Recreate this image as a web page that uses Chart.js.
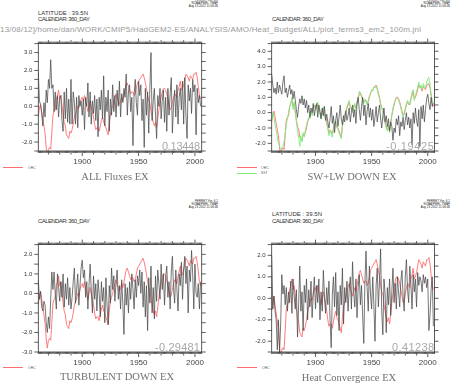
<!DOCTYPE html>
<html lang="en">
<head>
<meta charset="UTF-8">
<title>Heat budget terms</title>
<script src="https://cdn.jsdelivr.net/npm/chart.js"></script>
<style>
  html, body { margin: 0; padding: 0; background: #fff; }
  #page { position: relative; width: 451px; height: 384px; overflow: hidden; font-family: "Liberation Sans", Arial, sans-serif; }
  #page canvas { position: absolute; }
  .t { position: absolute; white-space: nowrap; line-height: 1; }
  .sw { position: absolute; height: 1px; width: 20px; }
</style>
</head>
<body>
<div id="page"></div>
<script>
// annual values 1861-2005
const YEARS = [
  1861,1862,1863,1864,1865,1866,1867,1868,1869,1870,
  1871,1872,1873,1874,1875,1876,1877,1878,1879,1880,
  1881,1882,1883,1884,1885,1886,1887,1888,1889,1890,
  1891,1892,1893,1894,1895,1896,1897,1898,1899,1900,
  1901,1902,1903,1904,1905,1906,1907,1908,1909,1910,
  1911,1912,1913,1914,1915,1916,1917,1918,1919,1920,
  1921,1922,1923,1924,1925,1926,1927,1928,1929,1930,
  1931,1932,1933,1934,1935,1936,1937,1938,1939,1940,
  1941,1942,1943,1944,1945,1946,1947,1948,1949,1950,
  1951,1952,1953,1954,1955,1956,1957,1958,1959,1960,
  1961,1962,1963,1964,1965,1966,1967,1968,1969,1970,
  1971,1972,1973,1974,1975,1976,1977,1978,1979,1980,
  1981,1982,1983,1984,1985,1986,1987,1988,1989,1990,
  1991,1992,1993,1994,1995,1996,1997,1998,1999,2000,
  2001,2002,2003,2004,2005
];

const OHC = [
  -0.6,-0.1,0.1,-0.3,-0.7,-1.1,-1.5,-2.3,-2.8,-2.4,
  -2.3,-2.4,-1.5,-0.5,-0.3,-0.2,0.4,0.6,0.9,0.4,
  0.6,0.1,-0.5,-0.9,-1.1,-1.6,-1.7,-1.8,-1.4,-1.5,
  -1.3,-1.0,-0.6,-0.4,-0.3,0.0,-0.1,0.2,0.4,0.5,
  0.3,0.6,0.2,0.0,-0.3,0.0,0.3,0.0,-0.3,-0.6,
  -1.0,-1.3,-1.2,-1.2,-1.4,-1.1,-0.8,-0.6,-0.9,-1.0,
  -1.2,-1.4,-1.6,-0.9,-0.4,-0.2,0.0,0.3,0.5,0.7,
  0.4,0.3,0.1,0.3,0.5,0.3,0.6,0.9,1.2,1.3,
  1.1,0.9,0.7,0.8,0.8,0.6,0.7,1.0,1.3,1.4,
  1.5,1.6,1.7,1.8,1.6,1.3,1.0,0.6,0.3,0.2,
  -0.3,-0.6,-0.9,-1.1,-0.9,-1.2,-0.7,-0.2,0.2,0.5,
  0.8,1.0,1.0,0.9,0.7,0.4,0.1,-0.2,-0.1,0.2,
  0.5,0.7,0.6,0.5,0.9,1.1,1.4,0.9,1.0,1.2,
  1.5,1.8,1.7,1.6,1.4,1.7,1.6,1.5,1.8,1.8,
  1.9,1.6,1.1,0.6,0.4
];

const SST = [
  -0.5,0.0,-0.3,-0.8,-1.2,-1.6,-2.0,-2.2,-2.4,-2.3,
  -2.2,-1.9,-1.3,-0.8,-0.4,0.0,0.4,0.5,1.0,0.2,
  0.7,0.0,-0.6,-1.2,-1.6,-2.2,-1.5,-1.9,-1.3,-1.6,
  -1.1,-0.8,-0.5,-0.3,-0.4,0.1,-0.2,0.3,0.5,0.4,
  0.2,0.7,0.1,-0.1,-0.4,0.1,0.4,-0.1,-0.5,-0.7,
  -1.1,-1.5,-1.1,-1.4,-1.6,-1.0,-0.7,-0.5,-1.0,-1.1,
  -1.3,-1.5,-1.7,-0.8,-0.3,-0.1,0.1,0.4,0.6,0.8,
  0.3,0.2,0.0,0.4,0.6,0.2,0.7,1.0,1.4,1.2,
  1.0,0.8,0.6,0.9,0.7,0.5,0.8,1.1,1.2,1.5,
  1.4,1.7,1.6,1.7,1.5,1.2,0.9,0.5,0.2,0.3,
  -0.4,-0.7,-1.0,-1.2,-0.8,-1.3,-0.6,-0.1,0.3,0.6,
  0.8,1.0,0.9,0.8,0.6,0.3,0.0,-0.3,0.0,0.3,
  0.6,0.8,0.5,0.6,1.0,1.3,1.5,0.8,1.1,1.4,
  1.6,2.0,1.6,1.8,1.5,1.9,1.7,1.6,2.0,2.2,
  2.3,1.8,1.2,0.8,0.6
];

const ALL_FLUXES = [
  1.9,0.3,0.1,-0.4,-1.1,0.2,-0.6,0.9,0.2,1.5,
  1.0,2.6,1.0,1.2,-0.3,0.8,-0.2,0.6,-0.6,0.5,
  0.6,-0.8,-1.4,0.8,-0.7,1.0,-0.9,0.4,-1.0,1.5,
  -1.0,0.8,0.2,-1.0,0.5,-1.2,0.6,0.0,0.3,-0.5,
  0.4,-1.3,0.5,0.0,1.3,-0.6,0.8,-1.0,0.3,-0.4,
  0.6,-0.8,0.4,-1.7,0.5,-0.2,0.9,-0.7,1.7,-1.1,
  0.5,-0.3,0.9,-1.4,0.4,-0.5,1.2,-0.3,0.6,-0.6,
  0.9,0.0,1.4,-0.6,0.7,0.2,1.0,0.5,1.8,-0.5,
  0.8,1.2,-0.3,0.5,-2.2,0.6,1.5,0.2,-0.5,1.4,
  0.6,1.2,-0.8,0.4,-2.3,1.0,-0.5,0.8,-1.5,1.0,
  3.0,-0.8,0.3,1.0,-0.5,-1.8,0.6,0.0,1.0,-0.7,
  0.3,0.9,-0.9,0.5,-1.4,1.0,-0.5,0.7,1.6,-1.5,
  0.0,0.9,-0.6,1.2,-1.0,0.5,1.0,-0.2,1.4,-1.0,
  1.6,-0.5,-1.8,1.2,0.3,1.0,-0.4,1.5,0.8,1.2,
  -1.6,1.0,0.2,0.6,0.0
];

const SWLW_DOWN = [
  2.5,1.8,1.3,1.6,1.2,2.0,1.3,1.8,1.5,1.2,
  2.0,2.4,1.3,1.6,1.0,1.4,1.8,1.2,1.5,0.9,
  1.4,0.8,0.2,-0.3,0.4,0.9,0.6,1.1,0.5,0.9,
  0.3,0.8,0.0,0.5,-0.3,0.3,0.0,0.6,-0.2,0.3,
  0.6,-0.3,0.5,0.1,-0.4,0.3,-0.2,0.4,-0.5,-0.1,
  -0.6,-1.0,-0.4,0.4,-0.7,-0.2,-1.3,-0.5,0.0,-0.9,
  -0.3,0.5,-0.4,-0.8,-0.2,-0.6,0.1,-0.5,-0.2,0.3,
  -0.6,0.0,0.5,-0.3,0.2,-0.7,0.6,1.0,0.2,-0.5,
  0.4,1.0,-0.2,0.5,-0.8,0.1,0.6,-0.3,0.3,-0.5,
  0.2,-0.9,-0.3,0.4,-0.6,0.0,0.5,-0.4,-1.0,-0.2,
  0.3,-0.6,-0.2,-0.9,-0.4,-1.2,-0.6,-0.9,-1.8,-1.0,
  -1.3,-0.4,-0.8,-0.2,-1.5,-0.6,-0.9,-0.3,-1.1,-0.5,
  0.0,-0.8,-0.3,-1.0,-0.4,-2.1,0.0,-0.7,0.3,-0.5,
  -0.9,0.2,-2.2,0.4,-0.4,0.5,-0.6,0.2,0.9,1.2,
  0.6,0.2,1.0,0.4,0.6
];

const TURBULENT_DOWN = [
  0.7,-0.3,0.1,-0.7,-0.9,-0.4,-0.6,-1.5,-2.0,-1.2,
  -1.8,-0.3,1.1,0.2,1.1,0.0,-0.8,1.0,0.3,-0.4,
  0.6,-0.2,1.0,-0.7,0.5,-0.3,0.8,-0.6,0.3,-0.8,
  -0.2,0.6,1.3,-0.5,0.2,1.0,-0.6,0.4,1.3,1.7,
  0.8,1.2,-0.2,0.6,-0.8,0.4,1.5,0.2,-1.0,0.9,
  -0.3,0.5,-0.9,0.7,0.0,-1.2,0.6,-0.4,0.3,-1.5,
  0.8,-0.6,-1.6,0.4,-0.5,1.3,0.2,0.9,-0.4,0.6,
  1.2,-0.3,0.4,-0.8,0.7,-0.5,-2.1,0.5,-0.6,0.3,
  -1.0,0.6,-0.3,1.0,0.2,-0.8,0.7,-0.2,0.9,0.4,
  1.2,0.0,1.1,-0.7,0.6,-1.2,0.4,-1.9,0.8,-0.5,
  1.4,-1.0,0.3,-1.3,0.9,-0.4,1.2,0.5,-0.3,1.5,
  0.2,1.0,-0.6,0.8,1.4,-0.2,0.6,-0.8,1.1,1.9,
  0.3,-0.5,1.2,0.2,-0.9,1.0,0.4,1.6,-0.3,1.2,
  1.9,0.5,1.4,-1.0,1.2,0.6,2.2,1.0,-0.8,1.5,
  0.0,-0.2,0.5,-0.8,0.6
];

const HEAT_CONVERGENCE = [
  2.0,-0.5,0.1,-0.6,-1.0,-2.4,-1.0,-2.5,-1.2,1.1,
  0.2,0.6,-0.3,0.5,-0.6,0.3,-0.2,0.8,-0.7,0.9,
  0.1,-0.5,0.4,-1.8,-0.3,1.5,-0.6,0.3,-1.5,0.6,
  -0.2,0.9,-1.0,0.4,-0.4,0.8,-0.9,0.2,1.0,-0.5,
  0.6,-0.2,0.9,-1.0,0.3,-0.6,1.3,0.1,-0.7,0.5,
  -0.3,0.8,-1.0,-2.3,0.2,1.0,-0.4,1.2,-0.8,0.3,
  -1.5,0.6,-0.3,1.4,-1.2,0.5,-0.2,0.8,-0.6,0.4,
  1.0,-0.5,1.7,0.3,-0.4,0.9,-0.9,0.5,1.1,-0.3,
  0.6,-0.8,-2.1,0.7,2.2,0.5,-0.6,1.5,0.2,-0.5,
  1.0,-0.3,-2.0,0.6,1.4,-0.4,0.8,2.3,-0.6,-1.7,
  0.9,0.2,-1.6,0.5,-0.3,0.9,-0.8,0.3,1.4,-0.2,
  0.7,-0.5,1.0,0.3,-0.4,0.8,1.3,0.1,-0.6,1.0,
  1.8,0.4,-0.2,1.5,0.6,-0.5,1.1,0.3,0.9,-0.4,
  1.2,0.6,1.0,0.8,0.3,1.1,0.7,1.0,0.5,0.9,
  -1.5,-0.8,0.4,1.0,-1.3
];

const X_LABELS = [1900, 1950, 2000];
const TITLES = ['ALL Fluxes EX', 'SW+LW DOWN EX', 'TURBULENT DOWN EX', 'Heat Convergence EX'];
const CORRELATIONS = ['0.13448', '-0.19425', '-0.29481', '0.41238'];
const PATH_LABEL = '13/08/12]/home/dan/WORK/CMIP5/HadGEM2-ES/ANALYSIS/AMO/Heat_Budget/ALL/plot_terms3_em2_100m.jnl';
const FERRET_LINES = ['FERRET Ver. 6.1', 'NOAA/PMEL TMAP', 'Aug 13 2012 11:06:48'];

const BLACK = '#4a4a4a';
const RED = 'rgb(255,110,110)';
const GREEN = 'rgb(125,238,125)';

const page = document.getElementById('page');

function addText(str, o) {
  const d = document.createElement('div');
  d.className = 't';
  d.textContent = str;
  d.style.fontFamily = o.family || '"Liberation Sans", Arial, sans-serif';
  d.style.fontSize = o.size + 'px';
  d.style.color = o.color || '#333';
  page.appendChild(d);
  let w = d.getBoundingClientRect().width;
  if (o.width && str.length > 1) {
    const ls = (o.width - w) / (str.length - 1);
    d.style.letterSpacing = ls + 'px';
    w = o.width;
  }
  let left = o.x;
  if (o.align === 'center') left = o.x - w / 2;
  if (o.align === 'right') left = o.x - w;
  d.style.left = left + 'px';
  d.style.top = (o.baseline - 0.85 * o.size) + 'px';
}

function addSwatch(x, y, color) {
  const s = document.createElement('div');
  s.className = 'sw';
  s.style.left = x + 'px';
  s.style.top = y + 'px';
  s.style.background = color;
  page.appendChild(s);
}

const frameTicks = {
  id: 'frameTicks',
  afterDraw(chart) {
    const { ctx, chartArea: a, scales: { x, y } } = chart;
    ctx.save();
    ctx.strokeStyle = '#333';
    ctx.lineWidth = 0.8;
    ctx.strokeRect(a.left, a.top, a.right - a.left, a.bottom - a.top);
    ctx.beginPath();
    y.ticks.forEach(t => {
      const py = y.getPixelForValue(t.value);
      ctx.moveTo(a.left - 4, py); ctx.lineTo(a.left, py);
      ctx.moveTo(a.right, py); ctx.lineTo(a.right + 4, py);
    });
    x.ticks.forEach(t => {
      const px = x.getPixelForValue(t.value);
      const len = t.value % 50 === 0 ? 5 : (t.value % 10 === 0 ? 3.5 : 2);
      ctx.moveTo(px, a.top); ctx.lineTo(px, a.top - len);
      ctx.moveTo(px, a.bottom); ctx.lineTo(px, a.bottom + len);
    });
    ctx.stroke();
    ctx.restore();
  }
};

function makePanel(p) {
  const cv = document.createElement('canvas');
  cv.width = 225;
  cv.height = 138;
  cv.style.left = p.left + 'px';
  cv.style.top = p.top + 'px';
  page.appendChild(cv);

  new Chart(cv, {
    type: 'line',
    data: {
      datasets: p.series.map(s => ({
        data: YEARS.map((yr, i) => ({ x: yr, y: s.values[i] })),
        borderColor: s.color,
        borderWidth: s.width,
        pointRadius: 0,
        tension: 0,
        fill: false
      }))
    },
    options: {
      responsive: false,
      animation: false,
      events: [],
      layout: { padding: { top: 6, right: p.padRight, left: 0, bottom: 0 } },
      plugins: { legend: { display: false }, tooltip: { enabled: false } },
      scales: {
        x: {
          type: 'linear', min: 1861, max: 2006,
          afterFit: s => { s.height = 21; },
          grid: { display: false, drawTicks: false },
          border: { display: false },
          ticks: {
            stepSize: 1, autoSkip: false, maxRotation: 0, padding: 6,
            color: '#444', font: { family: 'Liberation Sans', size: 8 },
            callback: v => X_LABELS.includes(v) ? String(v) : ''
          }
        },
        y: {
          min: p.yMin, max: p.yMax,
          afterFit: s => { s.width = p.axisWidth; },
          grid: { display: false, drawTicks: false },
          border: { display: false },
          ticks: {
            stepSize: 0.5, autoSkip: false, padding: 6,
            color: '#333', font: { family: 'Liberation Sans', size: 6 },
            callback: v => Number.isInteger(v) ? v.toFixed(1) : ''
          }
        }
      }
    },
    plugins: [frameTicks]
  });
}

// panels: left column canvas at x=0, right column at x=233
const panels = [
  { left: 0, top: 34, axisWidth: 38.3, padRight: 23.3, yMin: -2.5, yMax: 3.5,
    series: [{ values: ALL_FLUXES, color: BLACK, width: 0.75 }, { values: OHC, color: RED, width: 0.9 }] },
  { left: 233, top: 34, axisWidth: 38.7, padRight: 23.5, yMin: -2.5, yMax: 4.5,
    series: [{ values: SWLW_DOWN, color: BLACK, width: 0.75 }, { values: SST, color: GREEN, width: 0.9 }, { values: OHC, color: RED, width: 0.9 }] },
  { left: 0, top: 235, axisWidth: 38.3, padRight: 23.3, yMin: -3.0, yMax: 2.5,
    series: [{ values: TURBULENT_DOWN, color: BLACK, width: 0.75 }, { values: OHC, color: RED, width: 0.9 }] },
  { left: 233, top: 235, axisWidth: 38.7, padRight: 23.5, yMin: -2.5, yMax: 2.5,
    series: [{ values: HEAT_CONVERGENCE, color: BLACK, width: 0.75 }, { values: OHC, color: RED, width: 0.9 }] }
];
panels.forEach(makePanel);

// header texts
addText(PATH_LABEL, { x: 0, baseline: 33, size: 8, color: '#9a9a9a', width: 421 });
addText('LATITUDE : 39.5N', { x: 38, baseline: 15, size: 6, width: 50 });
addText('CALENDAR: 360_DAY', { x: 38, baseline: 21.5, size: 6, width: 52 });
addText('CALENDAR: 360_DAY', { x: 272, baseline: 21.5, size: 6, width: 52 });
addText('CALENDAR: 360_DAY', { x: 38, baseline: 223, size: 6, width: 52 });
addText('LATITUDE : 39.5N', { x: 272, baseline: 216, size: 6, width: 50 });
addText('CALENDAR: 360_DAY', { x: 272, baseline: 223, size: 6, width: 52 });

[[218, 2], [450, 2], [218, 203], [450, 203]].forEach(([x, y]) => {
  FERRET_LINES.forEach((s, i) => addText(s, { x: x, baseline: y + i * 3, size: 3, align: 'right', color: '#222' }));
});

// correlations inside plots
addText(CORRELATIONS[0], { x: 200, baseline: 150, size: 11, align: 'right', color: '#a8a8a8', width: 38 });
addText(CORRELATIONS[1], { x: 434, baseline: 150, size: 11, align: 'right', color: '#a8a8a8', width: 48 });
addText(CORRELATIONS[2], { x: 200, baseline: 351, size: 11, align: 'right', color: '#a8a8a8', width: 45 });
addText(CORRELATIONS[3], { x: 434, baseline: 351, size: 11, align: 'right', color: '#a8a8a8', width: 42 });

// titles
const serif = '"Liberation Serif", "DejaVu Serif", serif';
addText(TITLES[0], { x: 115, baseline: 181, size: 10.5, align: 'center', color: '#707070', family: serif });
addText(TITLES[1], { x: 352, baseline: 181, size: 10.5, align: 'center', color: '#707070', family: serif });
addText(TITLES[2], { x: 117, baseline: 381, size: 10.5, align: 'center', color: '#707070', family: serif });
addText(TITLES[3], { x: 349, baseline: 382, size: 10.5, align: 'center', color: '#707070', family: serif });

// legends
addSwatch(3, 167, RED);   addText('OHC', { x: 28, baseline: 169.5, size: 3.5, color: '#666' });
addSwatch(237, 167, RED); addText('OHC', { x: 261, baseline: 169.5, size: 3.5, color: '#666' });
addSwatch(237, 173, GREEN); addText('SST', { x: 261, baseline: 175, size: 3.5, color: '#666' });
addSwatch(3, 367, RED);   addText('OHC', { x: 28, baseline: 369.5, size: 3.5, color: '#666' });
addSwatch(237, 367, RED); addText('OHC', { x: 262, baseline: 369.5, size: 3.5, color: '#666' });
</script>
</body>
</html>
